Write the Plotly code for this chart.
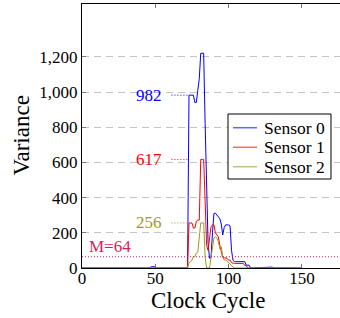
import plotly.graph_objects as go

# ---- data ----
clock = list(range(0, 151))

# non-zero segments (cycle -> variance), everything else is 0
s0_vals = {47: 6, 48: 8, 49: 8, 50: 6,
           73: 982, 74: 982, 75: 982, 76: 982, 77: 940, 78: 940, 79: 1010, 80: 1075,
           81: 1220, 82: 1220, 83: 1220, 84: 820, 85: 420, 86: 140, 87: 55, 88: 60,
           89: 200, 90: 310, 91: 312, 92: 300, 93: 285, 94: 280, 95: 250, 96: 188,
           97: 230, 98: 245, 99: 245, 100: 245, 101: 240, 102: 100, 103: 45,
           104: 36, 105: 36, 106: 36, 107: 36, 108: 36, 109: 36, 110: 36, 111: 36,
           112: 16, 113: 16, 114: 16, 127: 4, 128: 5, 129: 5, 130: 4}
s1_vals = {73: 256, 74: 256, 75: 256, 76: 227, 77: 227, 78: 265, 79: 272, 80: 272,
           81: 617, 82: 617, 83: 617, 84: 380, 85: 130, 86: 100, 87: 160, 88: 234,
           89: 245, 90: 245, 91: 200, 92: 190, 93: 177, 94: 130, 95: 85, 96: 60,
           97: 58, 98: 58, 99: 55, 100: 45, 101: 45, 102: 30, 103: 26, 104: 26,
           105: 26, 106: 26, 107: 26, 108: 26, 109: 26, 110: 26, 111: 15, 112: 15}
s2_vals = {73: 30, 74: 35, 75: 45, 76: 64, 77: 64, 78: 85, 79: 90, 80: 170,
           81: 256, 82: 256, 83: 256, 84: 60, 85: 0, 86: 0, 87: 0, 88: 60, 89: 120,
           90: 170, 91: 178, 92: 170, 93: 150, 94: 110, 95: 120, 96: 65, 97: 45,
           98: 45, 99: 40, 100: 30, 101: 20, 102: 10, 103: 5}

sensor0 = [s0_vals.get(c, 0) for c in clock]
sensor1 = [s1_vals.get(c, 0) for c in clock]
sensor2 = [s2_vals.get(c, 0) for c in clock]

series_names = ["Sensor 0", "Sensor 1", "Sensor 2"]
series_colors = ["#0000ff", "#ff0000", "#9c9a1c"]

peak_values = [982, 617, 256]
peak_label_x = 56
peak_line_x = [61, 72]

mean_value = 64
mean_label = "M=64"

x_ticks = [0, 50, 100, 150]
y_ticks = [0, 200, 400, 600, 800, 1000, 1200]

x_title = "Clock Cycle"
y_title = "Variance"

FONT = "Liberation Serif"

fig = go.Figure()
for name, ys, col in zip(series_names, [sensor0, sensor1, sensor2], series_colors):
    fig.add_trace(go.Scatter(x=clock, y=ys, mode="lines", name=name, showlegend=False,
                             line=dict(color=col, width=1)))

# peak markers: dotted line + label
for val, col in zip(peak_values, series_colors):
    fig.add_trace(go.Scatter(x=peak_line_x, y=[val, val], mode="lines", showlegend=False,
                             line=dict(color=col, width=1, dash="1px,2px"), hoverinfo="skip"))
    fig.add_annotation(x=peak_label_x, y=val, text=str(val), showarrow=False,
                       xanchor="right", yanchor="middle",
                       font=dict(family=FONT, size=17, color=col))

# mean line
mean_col = "#d81b60"
fig.add_trace(go.Scatter(x=[0, 176], y=[mean_value, mean_value], mode="lines", showlegend=False,
                         line=dict(color=mean_col, width=1, dash="1px,2px"), hoverinfo="skip"))
fig.add_annotation(x=3.4, y=124, text=mean_label, showarrow=False,
                   xanchor="left", yanchor="middle",
                   font=dict(family=FONT, size=17, color=mean_col))

# legend box (drawn in paper coordinates)
fig.add_shape(type="rect", xref="paper", yref="paper", x0=0.5659, x1=0.9651, y0=0.3371, y1=0.5833,
              line=dict(color="black", width=1), fillcolor="white", layer="above")
row_y = [0.5314, 0.4572, 0.3837]
for name, col, ry in zip(series_names, series_colors, row_y):
    fig.add_shape(type="line", xref="paper", yref="paper", x0=0.5853, x1=0.6783, y0=ry, y1=ry,
                  line=dict(color=col, width=1.5), opacity=0.6, layer="above")
    fig.add_annotation(xref="paper", yref="paper", x=0.6977, y=ry, text=name, showarrow=False,
                       xanchor="left", yanchor="middle",
                       font=dict(family=FONT, size=17.5, color="black"))

# axis titles
fig.add_annotation(xref="paper", yref="paper", x=0.49, y=-0.124, text=x_title, showarrow=False,
                   xanchor="center", yanchor="middle", font=dict(family=FONT, size=23))
fig.add_annotation(xref="paper", yref="paper", x=-0.238, y=0.5, text=y_title, showarrow=False,
                   textangle=-90, xanchor="center", yanchor="middle", font=dict(family=FONT, size=23))

fig.update_layout(
    width=340, height=318,
    margin=dict(l=82, r=0, t=4, b=50),
    paper_bgcolor="white", plot_bgcolor="white",
    font=dict(family=FONT, size=17, color="black"),
    showlegend=False,
    xaxis=dict(range=[0, 176], tickvals=x_ticks, showgrid=False, zeroline=False,
               automargin=False,
               showline=True, linecolor="black", linewidth=1, mirror="ticks",
               ticks="inside", ticklen=4, tickcolor="#777", tickwidth=1,
               ticklabelstandoff=-5,
               tickfont=dict(family=FONT, size=17)),
    yaxis=dict(range=[0, 1500], tickvals=y_ticks, tickformat=",d", zeroline=False,
               automargin=False,
               showgrid=True, gridcolor="#c4c4c4", griddash="7px,5px", gridwidth=1,
               showline=True, linecolor="black", linewidth=1,
               ticks="inside", ticklen=4, tickcolor="#777", tickwidth=1,
               tickfont=dict(family=FONT, size=17)),
)

fig.write_html("out.html", config={"displayModeBar": False},
               post_script="document.body.style.margin='0';document.body.style.padding='0';"
                           "document.body.style.overflow='hidden';")
